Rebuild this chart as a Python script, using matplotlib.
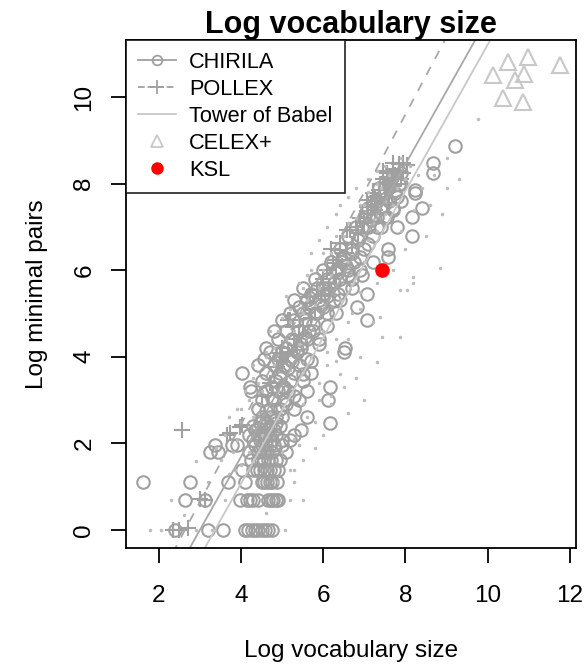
import matplotlib
matplotlib.use("Agg")
import matplotlib.pyplot as plt
from matplotlib.lines import Line2D
import numpy as np

plt.rcParams['font.family'] = ['Liberation Sans', 'DejaVu Sans']

# CHIRILA languages (open circles)
chirila_x = [2.39, 3.19, 3.56, 4.09, 4.18, 4.26, 4.35, 4.41, 4.50, 4.58, 4.66, 4.75,
             2.63, 3.12, 3.97, 4.14, 4.22, 4.29, 4.41, 4.65, 4.72, 4.77, 4.84, 4.90,
             1.61, 2.75, 3.68, 4.09, 4.50, 4.56, 4.63, 4.70, 4.75, 4.87,
             4.02, 4.30, 4.38, 4.45, 4.55, 4.62, 4.70, 4.80, 4.90,
             4.25, 4.40, 4.48, 4.55, 4.65, 4.72, 4.85, 4.95,
             3.24, 3.44, 4.20, 4.42, 4.55, 4.62, 4.75, 5.10,
             3.36, 3.78, 3.90, 4.35, 4.50, 4.60, 4.70, 4.80, 5.00,
             4.30, 4.45, 4.60, 4.75, 5.00, 5.20,
             4.20, 4.40, 4.55, 4.70, 4.85, 5.30,
             4.35, 4.50, 4.65, 4.80, 5.45,
             4.30, 4.55, 4.70, 4.95,
             4.45, 4.60, 4.85, 6.16,
             4.50, 4.70, 5.00, 5.60,
             4.40, 4.70, 4.95, 5.30,
             4.50, 4.80, 5.05, 5.40, 6.11,
             4.23, 4.60, 4.90, 5.15, 5.60,
             4.21, 4.75, 5.00, 6.16,
             4.50, 4.85, 5.20, 5.50,
             4.02, 4.60, 4.95, 5.30, 5.70,
             4.40, 4.80, 5.05, 5.40,
             4.55, 4.90, 5.20, 5.60,
             4.70, 5.00, 5.35, 6.50,
             4.60, 5.10, 5.45, 6.53,
             4.90, 5.25, 5.60, 5.90,
             4.80, 5.10, 5.40, 5.75,
             5.00, 5.30, 5.55, 7.06,
             5.20, 5.50, 5.80, 6.10,
             5.40, 5.65, 6.00, 6.82,
             5.30, 5.60, 5.90, 6.25,
             5.70, 6.00, 6.35, 7.06,
             5.50, 5.85, 6.15, 6.50,
             5.80, 6.10, 6.40, 6.70,
             6.00, 6.30, 6.60, 6.90,
             6.20, 6.45, 6.75, 7.20,
             7.57,
             6.40, 6.70, 7.00, 7.57,
             6.60, 6.90, 7.20, 8.16,
             6.80, 7.10, 7.40, 7.79,
             7.00, 7.30, 7.55, 8.16,
             7.10, 7.40, 7.70, 8.40,
             7.30, 7.60, 7.90,
             7.50, 7.75, 8.23, 8.23,
             7.60, 7.85,
             7.90, 8.67,
             8.67,
             9.20,
             7.20, 7.35, 7.45, 7.60, 7.70, 7.80, 7.90, 7.05, 6.95, 7.15,
             6.85, 6.70, 6.55, 6.35, 6.10, 5.95, 5.75, 5.55, 5.35, 5.15,
             4.95, 4.75, 4.60, 5.05, 5.25, 5.45, 5.65, 5.85, 6.05, 6.25,
             6.50, 6.60, 6.90, 7.10, 7.30, 7.50, 7.70, 4.40, 4.60, 4.85,
             5.10, 5.30, 5.50, 5.70, 5.90, 6.10, 6.30, 6.40, 6.70, 6.95]
chirila_y = [0.00] * 12 + [0.69] * 12 + [1.10] * 10 + [1.39] * 9 + [1.61] * 8 + \
            [1.79] * 8 + [1.95] * 9 + [2.08] * 6 + [2.20] * 6 + [2.30] * 5 + \
            [2.40] * 4 + [2.48] * 4 + [2.60] * 4 + [2.80] * 4 + [3.00] * 5 + \
            [3.20] * 5 + [3.30] * 4 + [3.45] * 4 + [3.62] * 5 + [3.80] * 4 + \
            [3.95] * 4 + [4.10] * 4 + [4.20] * 4 + [4.40] * 4 + [4.60] * 4 + \
            [4.85] * 4 + [5.00] * 4 + [5.15] * 4 + [5.30] * 4 + [5.45] * 4 + \
            [5.60] * 4 + [5.80] * 4 + [6.00] * 4 + [6.20] * 4 + [6.30] + \
            [6.50] * 4 + [6.80] * 4 + [7.00] * 4 + [7.23] * 4 + [7.44] * 4 + \
            [7.60] * 3 + [7.78, 7.78, 7.78, 7.85] + [8.00] * 2 + [8.24] * 2 + \
            [8.47] + [8.87] + \
            [7.60, 7.90, 7.45, 7.95, 8.20, 7.70, 8.00, 7.35, 7.00, 7.15,
             6.70, 6.40, 6.10, 5.95, 5.40, 5.20, 4.75, 4.45, 4.15, 3.75,
             3.50, 3.05, 2.75, 3.30, 3.90, 4.30, 4.60, 5.00, 5.60, 5.70,
             6.30, 5.90, 6.30, 6.60, 7.00, 7.20, 7.40, 2.35, 2.50, 2.60,
             2.90, 3.10, 3.60, 3.90, 4.30, 4.70, 5.00, 5.30, 5.60, 5.90]

# POLLEX languages (plus signs)
pollex_x = [2.34, 2.48, 2.70, 3.12, 3.00, 2.56, 3.65, 3.97, 4.02, 3.73, 4.87, 4.99,
            4.94, 5.36, 5.14, 5.19, 5.26, 5.60, 5.60, 5.67, 5.84, 6.23, 6.33, 6.40,
            6.40, 6.57, 6.65, 7.06, 7.06, 7.20, 7.38, 7.45, 7.45, 7.55, 7.60, 7.69,
            7.75, 7.85, 7.94, 8.03, 7.70, 7.50, 6.90, 6.80, 6.10, 6.00, 5.40, 5.00,
            4.70, 4.50, 6.20, 7.30, 7.90, 7.60,
            7.15, 7.25, 7.35, 7.40, 7.50, 7.55, 7.65, 7.70, 7.80, 7.85, 7.95, 7.25,
            7.10, 7.00, 6.85, 6.70, 6.55, 6.45, 6.30, 6.15, 5.95, 5.80, 5.70, 5.50,
            5.30, 5.15, 5.00]
pollex_y = [0.00, 0.00, 0.05, 0.69, 0.72, 2.31, 2.19, 2.38, 2.42, 2.24, 3.76, 4.09,
            4.09, 4.16, 4.85, 4.85, 4.69, 5.24, 5.38, 5.38, 5.54, 6.17, 6.24, 6.47,
            6.63, 6.93, 6.93, 7.46, 7.62, 7.78, 8.00, 8.10, 8.30, 7.90, 8.15, 8.47,
            8.20, 8.30, 8.47, 8.43, 7.95, 7.70, 7.20, 7.00, 6.00, 5.80, 4.50, 4.20,
            3.40, 3.10, 6.50, 7.60, 8.10, 7.70,
            7.50, 7.70, 7.85, 7.60, 8.00, 8.25, 8.05, 8.35, 8.00, 8.45, 8.25, 7.40,
            7.30, 7.10, 6.85, 6.60, 6.40, 6.10, 5.90, 5.60, 5.40, 5.10, 4.90, 4.70,
            4.40, 4.10, 3.90]

# Tower of Babel languages (small dots)
babel_x = [1.78, 2.05, 2.90, 3.30, 5.07, 5.20, 3.60, 4.90, 5.30, 3.85, 5.20, 5.50,
           3.50, 3.20, 2.90, 3.70, 5.40, 3.90, 5.60, 3.70, 4.00, 5.80, 5.50, 6.20,
           4.20, 5.90, 6.40, 4.30, 5.70, 6.30, 4.60, 6.00, 6.60, 4.70, 5.00, 6.10,
           6.70, 5.10, 6.90, 5.40, 7.30, 5.60, 7.00, 5.70, 7.10, 5.90, 7.30, 6.10,
           7.50, 6.30, 6.40, 7.70, 6.60, 6.80, 7.10, 7.30, 7.60, 8.00, 8.30, 9.00,
           9.76, 8.84, 8.18, 7.86, 7.38, 7.43, 7.30, 7.86, 8.03, 8.18, 7.00, 6.60,
           6.00, 6.90, 7.20, 6.40, 6.00, 5.40, 5.20, 4.90, 4.70, 4.50, 4.20, 4.00,
           3.80, 5.30, 5.80, 6.20, 6.60, 6.90, 7.20, 7.50, 7.80, 8.10, 6.20, 5.90,
           5.50, 5.10, 4.80, 4.50, 4.30, 6.80, 7.00, 7.40, 6.50, 6.00, 5.60, 5.20,
           4.80, 4.40, 4.00, 8.50, 8.60, 9.00,
           7.30, 7.50, 7.90, 7.10, 6.90, 6.60, 6.30, 6.00, 5.70, 5.50, 5.20, 4.90,
           4.60, 4.30, 4.10, 3.90, 3.60, 3.40, 8.20, 8.40, 8.70, 7.90, 7.60, 7.30,
           7.70, 8.00, 6.90, 6.60, 6.30, 6.10, 5.90, 5.60, 5.30, 5.00, 6.50, 6.80,
           5.80, 6.20, 4.60, 5.50, 5.30, 2.30, 2.60, 8.90, 9.30]
babel_y = [0.00, 0.00, 0.00, 0.00, 0.00, 0.69, 0.69, 1.10, 1.10, 1.39, 1.39, 1.61,
           1.61, 1.10, 1.60, 1.30, 1.95, 2.08, 2.30, 2.60, 2.80, 2.50, 2.90, 3.10,
           3.00, 3.40, 3.60, 3.50, 4.00, 3.90, 4.10, 4.60, 4.40, 4.60, 4.90, 4.10,
           5.00, 5.40, 5.50, 5.70, 5.70, 5.90, 6.20, 6.40, 6.70, 6.70, 6.90, 7.00,
           7.30, 7.30, 7.50, 7.50, 7.70, 7.90, 8.10, 8.30, 8.20, 8.10, 8.20, 8.60,
           9.50, 6.05, 5.84, 5.54, 4.92, 4.46, 3.88, 4.46, 5.54, 5.70, 3.00, 2.70,
           2.20, 4.00, 4.80, 5.30, 5.10, 4.30, 3.70, 3.20, 2.70, 2.20, 1.80, 1.50,
           1.80, 4.60, 5.20, 5.90, 6.20, 6.60, 7.10, 7.60, 7.90, 8.40, 6.40, 5.60,
           5.00, 4.40, 3.80, 3.20, 2.60, 7.20, 7.50, 7.90, 6.80, 6.00, 5.30, 4.80,
           4.20, 3.40, 2.50, 6.80, 7.50, 7.90,
           8.00, 8.40, 8.60, 7.80, 7.50, 7.10, 6.80, 6.40, 6.00, 5.60, 5.10, 4.60,
           4.00, 3.80, 3.20, 2.80, 2.20, 1.90, 7.40, 7.90, 8.20, 6.90, 6.40, 6.10,
           6.00, 6.50, 5.10, 4.80, 4.40, 3.80, 3.00, 2.60, 2.10, 1.80, 3.30, 3.50,
           1.90, 2.90, 0.40, 0.69, 1.39, 0.69, 0.35, 7.30, 8.10]

# CELEX+ languages (triangles)
celex_x = [10.49, 10.98, 11.76, 10.13, 10.66, 10.88, 10.37, 10.86]
celex_y = [10.81, 10.92, 10.74, 10.51, 10.39, 10.53, 9.98, 9.88]

# KSL
ksl_x = [7.43]
ksl_y = [6.00]

# regression lines (intercept, slope)
chirila_fit = (-5.07, 1.69)
pollex_fit = (-4.72, 1.79)
babel_fit = (-5.69, 1.69)

col_dark = '#a0a0a0'
col_light = '#c8c8c8'

fig = plt.figure(figsize=(5.87, 6.64), dpi=100)
ax = fig.add_axes([126 / 587, 1 - 548 / 664, 450 / 587, 508 / 664])

ax.plot(chirila_x, chirila_y, 'o', ms=9, mfc='none', mec=col_dark, mew=1.5)
ax.plot(pollex_x, pollex_y, '+', ms=12, mec=col_dark, mew=1.5)
ax.plot(babel_x, babel_y, '.', ms=3, color='#bdbdbd')

xs = np.array([0, 14])
ax.plot(xs, chirila_fit[0] + chirila_fit[1] * xs, '-', color='#a8a8a8', lw=1.3)
ax.plot(xs, pollex_fit[0] + pollex_fit[1] * xs, '--', color='#a8a8a8', lw=1.3,
        dashes=(5, 5))
ax.plot(xs, babel_fit[0] + babel_fit[1] * xs, '-', color=col_light, lw=1.3)

ax.plot(celex_x, celex_y, '^', ms=11, mfc='none', mec=col_light, mew=1.5)
ax.plot(ksl_x, ksl_y, 'o', ms=9.5, color='red')

ax.set_xlim(1.2, 12.15)
ax.set_ylim(-0.42, 11.32)
ax.set_xticks([2, 4, 6, 8, 10, 12])
ax.set_yticks([0, 2, 4, 6, 8, 10])
ax.tick_params(direction='out', length=11, width=1.3, labelsize=17.5)
ax.tick_params(axis='x', pad=16)
ax.tick_params(axis='y', labelrotation=90, pad=11)
for lab in ax.get_yticklabels():
    lab.set_va('center')
for s in ax.spines.values():
    s.set_linewidth(1.3)

ax.set_xlabel('Log vocabulary size', fontsize=17.5, va='center')
ax.xaxis.set_label_coords(0.5, (548 - 651) / 508)
ax.set_ylabel('Log minimal pairs', fontsize=17.5, va='center')
ax.yaxis.set_label_coords((37 - 126) / 450, 0.5)
ax.set_title('Log vocabulary size', fontsize=22, fontweight='bold', pad=1)

handles = [
    Line2D([], [], color=col_dark, marker='o', ms=7, mfc='none', mew=1.3, lw=1.3),
    Line2D([], [], color=col_dark, marker='+', ms=10, ls='--', mew=1.3, lw=1.3),
    Line2D([], [], color=col_light, lw=1.3),
    Line2D([], [], color=col_light, marker='^', ms=8, mfc='none', mew=1.3, ls='none'),
    Line2D([], [], color='red', marker='o', ms=8, ls='none'),
]
labels = ['CHIRILA', 'POLLEX', 'Tower of Babel', 'CELEX+', 'KSL']
leg = ax.legend(handles, labels, loc='upper left', fontsize=15.7, frameon=True,
                fancybox=False, borderaxespad=0, handlelength=1.75,
                labelspacing=0.27, borderpad=0.55, handletextpad=0.6)
leg.get_frame().set_edgecolor('black')
leg.get_frame().set_linewidth(1.3)

fig.savefig('out.png', dpi=100)
